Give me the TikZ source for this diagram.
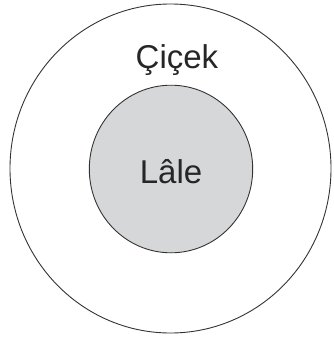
\documentclass[tikz,border=0pt]{standalone}
\usepackage{fontspec}
\setmainfont{Liberation Sans}
\definecolor{innerfill}{HTML}{D5D7D9}
\definecolor{linecol}{HTML}{333333}
\tikzset{
  ring/.style={draw=linecol, line width=0.9pt},
  label/.style={anchor=base, inner sep=0pt, text=black!85, font=\fontsize{33}{40}\selectfont}
}
\begin{document}
\begin{tikzpicture}[x=1pt, y=-1pt]
\useasboundingbox (0,0) rectangle (333,340);
\draw[ring] (170.5,168.5) ellipse [x radius=160.5, y radius=164.5];
\draw[ring, fill=innerfill] (171,169) ellipse [x radius=81.7, y radius=83.8];
\node[label] (cicek) at (177,68.5) {Çiçek};
\node[label] (lale) at (171,183) {Lâle};
\end{tikzpicture}
\end{document}
